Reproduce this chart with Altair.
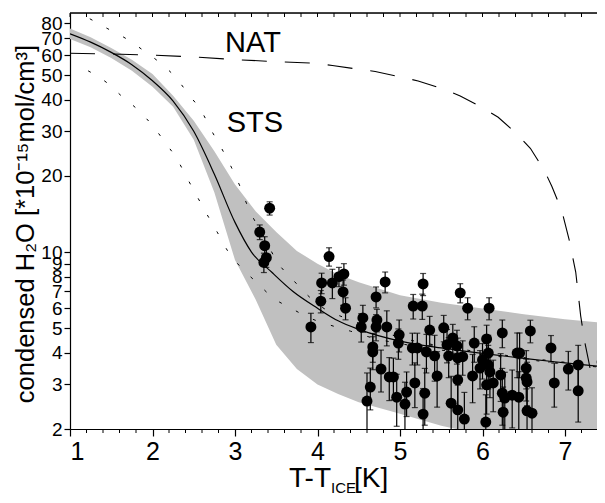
import altair as alt
import pandas as pd

# ---- curves ----
band_x  = [1.0, 1.25, 1.5, 1.75, 2.0, 2.25, 2.5, 2.75, 3.0, 3.25, 3.5, 3.75, 4.0, 4.25, 4.5, 5.0, 5.5, 6.0, 6.5, 7.0, 7.5]
band_hi = [76.5, 70.5, 64, 57.5, 50.5, 41.5, 33, 25, 18.5, 14.5, 12.0, 10.1, 9.0, 8.15, 7.6, 6.75, 6.3, 5.98, 5.68, 5.43, 5.24]
band_lo = [69.4, 64.5, 58.5, 52, 45, 37.5, 27.8, 17.2, 9.3, 6.5, 4.3, 3.45, 3.0, 2.75, 2.55, 2.3, 2.06, 1.9, 1.75, 1.6, 1.5]

fit_x = [1.0, 1.25, 1.5, 1.75, 2.0, 2.25, 2.5, 2.75, 3.0, 3.2, 3.45, 3.7, 4.0, 4.25, 4.5, 5.0, 5.5, 6.0, 6.5, 7.0, 7.5]
fit_y = [72.8, 67.5, 61.5, 55, 47.5, 39.5, 30, 20.3, 13.1, 10.0, 8.3, 7.0, 6.0, 5.35, 4.95, 4.45, 4.18, 3.98, 3.8, 3.65, 3.51]

dup_x = [1.24, 1.46, 1.69, 1.91, 2.09, 2.27, 2.44, 2.60, 2.72, 2.84, 2.96, 3.06, 3.16, 3.35, 3.52, 3.69, 3.87, 4.05, 4.31, 4.6, 5.0, 5.5, 6.0, 6.5, 7.0, 7.5]
dup_y = [83.5, 76.2, 69.4, 61.9, 56.0, 49.4, 41.9, 35.7, 30.0, 25.6, 21.5, 18.2, 15.0, 11.5, 9.06, 7.85, 6.8, 6.07, 5.53, 5.1, 4.6, 4.25, 4.02, 3.83, 3.67, 3.54]

dlo_x = [1.22, 1.45, 1.63, 1.81, 2.0, 2.15, 2.30, 2.42, 2.54, 2.66, 2.79, 2.92, 3.08, 3.27, 3.46, 3.68, 3.9, 4.15, 4.4, 4.7, 5.0, 5.5, 6.0, 6.5, 7.0, 7.5]
dlo_y = [52, 46.6, 41.2, 36.8, 31.6, 27.2, 23.2, 19.6, 16.6, 14.1, 11.9, 10.0, 8.65, 7.55, 6.6, 6.0, 5.5, 5.15, 4.87, 4.55, 4.35, 4.1, 3.93, 3.77, 3.62, 3.49]

nat_x = [1.0, 1.5, 2.0, 2.5, 3.0, 3.5, 3.97, 4.18, 4.49, 4.70, 5.02, 5.22, 5.53, 5.73, 6.0, 6.19, 6.43, 6.58, 6.75, 6.84, 6.96, 7.05, 7.13, 7.19, 7.24, 7.28, 7.34]
nat_y = [61, 60.6, 60, 59, 57.6, 56.5, 55.7, 54.6, 52.8, 51.7, 49.1, 47.4, 44.0, 41.4, 37.2, 34.1, 29.0, 25.7, 21.0, 18.2, 14.6, 11.2, 8.34, 5.6, 4.4, 3.8, 3.02]

# ---- measurements ----
pt_x = [3.42, 3.30, 3.36, 3.38, 3.35,
        3.92, 4.04, 4.05, 4.14, 4.18, 4.26, 4.32, 4.31, 4.34,
        4.82, 4.71, 5.28, 5.16, 5.27, 4.55, 4.53, 4.72, 4.71, 4.84, 4.99, 4.98,
        4.67, 4.67, 4.77, 4.87, 4.92, 4.64, 4.60, 4.96, 5.08, 5.06, 5.18, 5.15,
        5.21, 5.32, 5.36, 5.30, 5.28,
        5.73, 5.82, 6.08, 5.53, 5.64, 5.57, 5.69, 5.59, 5.70, 5.76, 5.90, 6.05,
        6.24, 5.42, 6.07, 6.00, 6.07, 6.09, 5.97, 5.88, 5.45, 6.05, 6.13, 6.22,
        5.70, 6.24, 6.27, 6.25, 5.62, 5.70, 5.78, 6.04,
        6.58, 6.42, 6.45, 6.53, 6.53, 6.54, 6.36, 6.44, 6.54, 6.60, 6.83, 6.87,
        7.04, 7.16, 7.16, 7.45]
pt_y = [14.9, 12.0, 10.6, 9.5, 9.1,
        5.06, 6.4, 7.55, 9.6, 7.55, 8.0, 8.2, 6.96, 6.0,
        7.62, 6.65, 7.48, 6.12, 6.12, 5.49, 5.06, 5.39, 5.06, 5.06, 4.71, 4.37,
        4.22, 4.03, 3.45, 3.21, 3.21, 2.93, 2.58, 2.67, 2.80, 2.51, 3.04, 4.18,
        4.18, 4.03, 4.92, 2.77, 2.29,
        6.9, 6.0, 6.0, 5.02, 4.58, 4.3, 4.26, 3.89, 3.82, 3.86, 4.37, 4.54,
        4.79, 3.89, 3.99, 3.75, 3.58, 3.36, 3.48, 3.24, 3.24, 2.99, 3.04, 3.27,
        3.13, 2.77, 2.65, 2.33, 2.53, 2.38, 2.19, 2.13,
        4.88, 3.99, 3.99, 3.48, 3.18, 3.07, 2.72, 2.67, 2.36, 2.31, 4.18, 3.04,
        3.45, 3.58, 2.83, 3.68]
pt_err = [0.9, 0.8, 0.9, 0.8, 0.8,
          0.67, 0.65, 0.7, 0.8, 1.0, 0.7, 0.8, 0.8, 0.6,
          0.72, 0.63, 0.75, 0.68, 0.7, 0.67, 0.65, 0.55, 0.6, 0.8, 0.68, 0.6,
          0.55, 0.6, 0.65, 0.62, 0.6, 0.55, 0.75, 0.62, 0.56, 0.55, 0.61, 0.6,
          0.6, 0.7, 0.65, 0.7, 0.6,
          0.6, 0.6, 0.6, 0.6, 0.6, 0.65, 0.65, 0.7, 0.75, 0.6, 0.7, 0.6,
          0.6, 0.8, 0.7, 0.6, 0.7, 0.7, 0.6, 0.7, 0.8, 0.7, 0.7, 0.7,
          0.8, 0.7, 0.7, 0.6, 0.7, 0.6, 0.6, 0.6,
          0.5, 0.8, 0.8, 0.6, 0.6, 0.6, 0.7, 0.7, 0.6, 0.6, 0.5, 0.6,
          0.6, 0.7, 0.7, 0.5]

lab_text = ["NAT", "STS"]
lab_x = [2.88, 2.90]
lab_y = [61.9, 29.8]

x_major = [1, 2, 3, 4, 5, 6, 7]
x_minor = [1.2, 1.4, 1.6, 1.8, 2.2, 2.4, 2.6, 2.8, 3.2, 3.4, 3.6, 3.8, 4.2, 4.4, 4.6, 4.8,
           5.2, 5.4, 5.6, 5.8, 6.2, 6.4, 6.6, 6.8, 7.2]
x_all = sorted(x_major + x_minor)
y_ticks = [2, 3, 4, 5, 6, 7, 8, 9, 10, 20, 30, 40, 50, 60, 70, 80]

FONT = "Liberation Sans"
W, H = 527, 416
xs = alt.Scale(domain=[1, 1 + W / 82.5], nice=False, zero=False)
ys = alt.Scale(type="log", domain=[2, 88], nice=False)

xaxis = alt.Axis(values=x_major, format="d", title=None, grid=False, tickSize=7,
                 labelFontSize=25, labelFont=FONT, labelColor="black", labelPadding=3,
                 domainColor="black", tickColor="black", domainWidth=1.2, tickWidth=1.2)
yaxis = alt.Axis(values=y_ticks, format="d", title=None, grid=False, tickSize=6,
                 labelFontSize=19, labelFont=FONT, labelColor="black", labelPadding=2,
                 labelOverlap=False, domainColor="black", tickColor="black",
                 domainWidth=1.2, tickWidth=1.2)

def X(f):
    return alt.X(f, type="quantitative", scale=xs, axis=xaxis)

def Y(f):
    return alt.Y(f, type="quantitative", scale=ys, axis=yaxis)

band_df = pd.DataFrame({"x": band_x, "lo": band_lo, "hi": band_hi})
band = alt.Chart(band_df).mark_area(color="#c0c0c0", opacity=1, clip=True).encode(
    x=X("x"), y=Y("lo"), y2="hi")

nat = alt.Chart(pd.DataFrame({"x": nat_x, "y": nat_y})).mark_line(
    color="black", strokeWidth=1.1, strokeDash=[25, 18], clip=True).encode(x=X("x"), y=Y("y"))

dup = alt.Chart(pd.DataFrame({"x": dup_x, "y": dup_y})).mark_line(
    color="black", strokeWidth=1, strokeDash=[3, 16], clip=True, interpolate="monotone").encode(x=X("x"), y=Y("y"))
dlo = alt.Chart(pd.DataFrame({"x": dlo_x, "y": dlo_y})).mark_line(
    color="black", strokeWidth=1, strokeDash=[3, 16], clip=True, interpolate="monotone").encode(x=X("x"), y=Y("y"))

fit = alt.Chart(pd.DataFrame({"x": fit_x, "y": fit_y})).mark_line(
    color="black", strokeWidth=1.2, clip=True, interpolate="monotone").encode(x=X("x"), y=Y("y"))

pts_df = pd.DataFrame({"x": pt_x, "y": pt_y, "e": pt_err})
pts_df["lo"] = pts_df["y"] - pts_df["e"]
pts_df["hi"] = pts_df["y"] + pts_df["e"]

bars = alt.Chart(pts_df).mark_rule(color="black", strokeWidth=1.2, clip=True).encode(
    x=X("x"), y=Y("lo"), y2="hi")
cap_lo = alt.Chart(pts_df).mark_tick(color="black", orient="horizontal", size=6, thickness=1.2, clip=True).encode(
    x=X("x"), y=Y("lo"))
cap_hi = alt.Chart(pts_df).mark_tick(color="black", orient="horizontal", size=6, thickness=1.2, clip=True).encode(
    x=X("x"), y=Y("hi"))
dots = alt.Chart(pts_df).mark_circle(color="black", size=120, opacity=1).encode(
    x=X("x"), y=Y("y"))

labels = alt.Chart(pd.DataFrame({"t": lab_text, "x": lab_x, "y": lab_y})).mark_text(
    align="left", baseline="alphabetic", fontSize=29, font=FONT, color="black").encode(
    x=X("x"), y=Y("y"), text="t:N")

minor_df = pd.DataFrame({"v": x_minor})
all_df = pd.DataFrame({"v": x_all})
minor_bottom = alt.Chart(minor_df).mark_rule(color="black", strokeWidth=1).encode(
    x=X("v"), y=alt.value(H), y2=alt.value(H + 4))
top_ticks = alt.Chart(all_df).mark_rule(color="black", strokeWidth=1).encode(
    x=X("v"), y=alt.value(0), y2=alt.value(4))
top_border = alt.Chart(pd.DataFrame({"v": [1]})).mark_rule(color="black", strokeWidth=1.5).encode(
    x=alt.value(0), x2=alt.value(W), y=alt.value(0))

def txt(s, x, y, size, align="left", angle=0):
    return alt.Chart(pd.DataFrame({"t": [s]})).mark_text(
        align=align, baseline="alphabetic" if angle == 0 else "middle", fontSize=size,
        font=FONT, color="black", angle=angle).encode(
        text="t:N", x=alt.value(x), y=alt.value(y))

xt1 = txt("T-T", 261, 474, 28, align="right")
xt2 = txt("ICE", 261, 480, 15)
xt3 = txt("[K]", 284, 474, 28)
yt = txt("condensed H\u2082O [*10\u207b\u00b9\u2075mol/cm\u00b3]", -44, 211, 25.5, align="center", angle=270)

chart = alt.layer(
    band, nat, dup, dlo, fit, bars, cap_lo, cap_hi, dots, labels,
    minor_bottom, top_ticks, top_border, xt1, xt2, xt3, yt
).properties(
    width=W, height=H,
    autosize=alt.AutoSizeParams(type="none"),
    padding={"left": 62, "top": 5, "right": 0, "bottom": 66},
).configure_view(strokeWidth=0).configure(background="white")

chart.save("out.html", embed_options={"renderer": "svg", "actions": False})
